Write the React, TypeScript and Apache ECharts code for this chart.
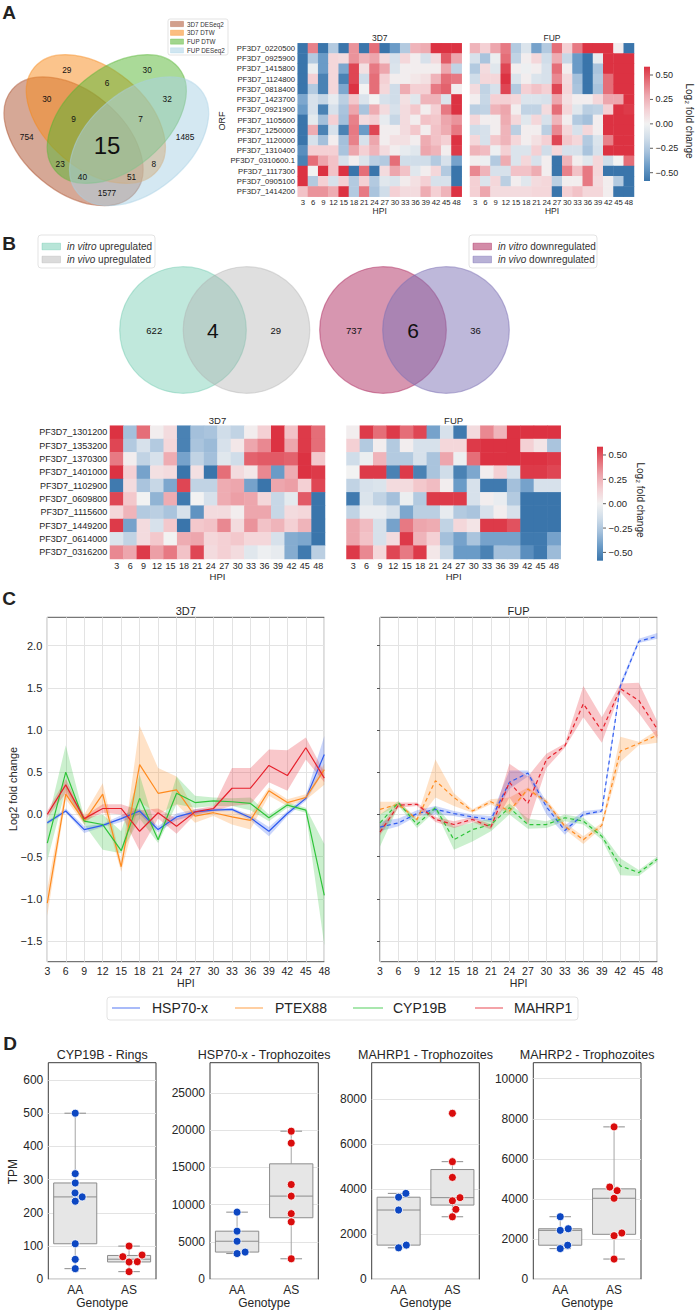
import React, { useEffect, useRef } from 'react';
import * as echarts from 'echarts';

const FONT = "'Liberation Sans', Arial, Helvetica, 'DejaVu Sans', sans-serif";
const INK = '#262626';

// ---------------- Panel A : 4-set Venn ----------------
const vennASetNames = ['3D7 DESeq2', '3D7 DTW', 'FUP DTW', 'FUP DESeq2'];
const vennAColors = ['#ad512d', '#f78919', '#55b531', '#a9d1e5'];
const vennARegions = ['1000', '0100', '0010', '0001', '1100', '0110', '0011', '1110', '0111', '1111', '1010', '0101', '1011', '1101', '1001'];
const vennACounts = [754, 29, 30, 1485, 30, 6, 32, 9, 7, 15, 23, 8, 40, 51, 1577];

// ---------------- Panel B : 2-set Venns ----------------
const vennBUpCounts = [622, 4, 29];
const vennBDownCounts = [737, 6, 36];
const vennBUpLegend = [['in vitro', ' upregulated'], ['in vivo', ' upregulated']];
const vennBDownLegend = [['in vitro', ' downregulated'], ['in vivo', ' downregulated']];

// ---------------- Heatmaps ----------------
const hpiLabels = ['3', '6', '9', '12', '15', '18', '21', '24', '27', '30', '33', '36', '39', '42', '45', '48'];
const cbTicks = [0.5, 0.25, 0, -0.25, -0.5];
const genesA = ['PF3D7_0220500', 'PF3D7_0925900', 'PF3D7_1415800', 'PF3D7_1124800', 'PF3D7_0818400', 'PF3D7_1423700', 'PF3D7_0921900', 'PF3D7_1105600', 'PF3D7_1250000', 'PF3D7_1120000', 'PF3D7_1310400', 'PF3D7_0310600.1', 'PF3D7_1117300', 'PF3D7_0905100', 'PF3D7_1414200'];
const genesB = ['PF3D7_1301200', 'PF3D7_1353200', 'PF3D7_1370300', 'PF3D7_1401000', 'PF3D7_1102900', 'PF3D7_0609800', 'PF3D7_1115600', 'PF3D7_1449200', 'PF3D7_0614000', 'PF3D7_0316200'];

const heatA3D7 = [
  [-0.6, 0.4, -0.6, -0.25, -0.6, 0.35, -0.6, 0.45, -0.6, -0.45, -0.25, 0.25, 0.28, 0.6, 0.6, 0.6],
  [-0.6, -0.25, -0.45, 0.12, 0.1, 0.35, 0.25, 0.3, 0.1, -0.12, 0.12, 0.02, -0.12, 0.1, 0.5, 0.3],
  [-0.6, -0.03, -0.45, 0.12, -0.4, 0.55, 0.08, 0.42, 0.3, -0.1, 0.02, 0.02, 0.02, 0.02, 0.3, -0.2],
  [-0.6, 0.15, -0.55, 0.12, -0.55, 0.55, -0.15, 0.45, 0.15, 0.02, 0.02, 0.05, 0.08, 0.25, 0.45, 0.42],
  [-0.6, -0.25, -0.55, 0.12, -0.4, 0.6, 0.0, 0.45, 0.12, -0.15, 0.28, 0.15, 0.15, 0.42, 0.48, 0.02],
  [-0.4, -0.12, -0.18, -0.05, -0.22, 0.18, -0.1, 0.0, -0.12, -0.15, 0.08, -0.08, 0.25, 0.25, -0.1, 0.6],
  [-0.45, -0.12, -0.55, -0.12, -0.28, 0.3, -0.28, 0.28, 0.1, -0.12, 0.1, 0.18, 0.02, 0.15, 0.42, 0.6],
  [-0.6, -0.06, -0.3, 0.15, -0.3, 0.4, 0.1, 0.15, -0.05, -0.18, 0.1, 0.02, 0.2, 0.18, 0.3, 0.35],
  [-0.6, 0.28, -0.55, -0.12, -0.55, 0.42, -0.45, 0.55, 0.02, 0.02, 0.1, 0.18, 0.02, 0.2, 0.28, 0.42],
  [-0.6, -0.12, -0.3, 0.02, -0.3, 0.4, -0.12, 0.3, 0.02, 0.08, 0.08, 0.02, 0.28, 0.2, 0.15, 0.6],
  [-0.5, 0.15, 0.15, 0.15, -0.28, 0.3, 0.15, 0.25, 0.1, 0.02, -0.05, -0.08, 0.3, 0.25, 0.02, 0.58],
  [-0.55, 0.45, 0.3, 0.2, -0.12, 0.02, -0.1, -0.22, -0.25, 0.45, -0.15, -0.15, -0.15, -0.25, -0.12, -0.42],
  [0.6, 0.0, 0.6, 0.2, 0.6, -0.6, 0.45, -0.6, 0.1, 0.3, 0.2, -0.08, 0.02, 0.12, -0.25, -0.6],
  [0.6, -0.25, 0.15, -0.12, 0.15, -0.25, 0.15, -0.25, -0.08, -0.1, 0.03, 0.08, 0.15, -0.12, -0.12, -0.6],
  [0.2, 0.35, 0.35, 0.28, 0.6, -0.25, 0.42, -0.28, -0.15, 0.15, 0.1, 0.1, 0.28, 0.15, 0.25, 0.6],
];
const heatAFUP = [
  [0.25, 0.15, 0.3, 0.42, -0.25, -0.1, -0.42, -0.25, 0.45, 0.15, 0.42, 0.6, 0.6, 0.6, 0.02, -0.6],
  [-0.12, -0.28, -0.03, 0.45, -0.2, 0.02, 0.12, -0.15, 0.28, -0.18, -0.45, -0.6, -0.05, 0.6, 0.6, 0.6],
  [-0.25, 0.1, -0.08, 0.55, 0.02, -0.02, 0.02, -0.12, 0.45, 0.02, -0.45, -0.6, -0.28, 0.6, 0.6, 0.6],
  [-0.15, 0.12, 0.12, 0.6, -0.1, 0.02, -0.1, -0.12, 0.38, 0.1, -0.3, -0.6, -0.25, 0.45, 0.6, 0.6],
  [0.1, -0.2, -0.12, 0.55, -0.25, 0.15, 0.2, 0.15, 0.55, 0.12, -0.28, -0.6, -0.28, 0.45, 0.6, 0.6],
  [0.02, -0.18, 0.15, 0.15, 0.12, -0.1, -0.1, -0.12, 0.3, 0.08, 0.02, 0.02, 0.12, 0.3, 0.3, 0.6],
  [-0.22, -0.2, 0.25, 0.3, 0.02, -0.2, -0.2, 0.1, 0.45, 0.12, -0.08, -0.22, -0.2, 0.15, 0.6, 0.58],
  [0.12, 0.02, 0.02, 0.28, 0.12, -0.08, 0.12, -0.12, 0.25, 0.02, -0.25, -0.3, 0.02, 0.6, 0.6, 0.6],
  [-0.15, -0.12, 0.02, 0.25, -0.22, 0.02, 0.02, -0.22, 0.38, 0.12, -0.12, 0.12, 0.02, 0.6, 0.6, 0.6],
  [0.12, -0.12, 0.18, 0.25, 0.12, 0.02, 0.08, 0.15, 0.55, 0.18, 0.12, -0.25, -0.1, 0.4, 0.6, 0.6],
  [0.25, 0.22, -0.02, 0.15, -0.1, -0.1, 0.15, -0.15, 0.12, -0.12, -0.12, -0.28, -0.12, 0.6, 0.6, 0.6],
  [0.02, -0.02, -0.25, 0.28, -0.1, 0.12, -0.12, 0.02, -0.6, 0.25, 0.02, -0.08, 0.12, -0.15, 0.0, 0.45],
  [0.38, 0.25, -0.12, -0.12, 0.2, 0.2, 0.28, 0.02, -0.6, 0.4, 0.2, 0.42, 0.12, -0.6, -0.6, -0.6],
  [0.15, -0.1, 0.12, -0.22, 0.02, -0.08, 0.1, 0.12, -0.22, 0.02, 0.02, 0.42, 0.1, 0.02, -0.25, -0.6],
  [0.15, 0.3, 0.1, 0.1, 0.1, 0.1, 0.12, 0.12, -0.6, 0.15, 0.2, 0.12, 0.12, 0.02, -0.6, -0.6],
];
const heatB3D7 = [
  [0.6, -0.3, 0.45, 0.02, 0.1, -0.55, -0.3, -0.28, -0.15, -0.2, 0.02, 0.15, 0.6, 0.2, 0.58, 0.45],
  [0.55, -0.25, -0.12, -0.25, 0.12, -0.55, -0.28, -0.32, -0.12, 0.05, 0.3, 0.38, 0.6, 0.3, 0.58, 0.45],
  [0.42, 0.02, -0.2, -0.12, 0.28, -0.42, -0.2, -0.3, -0.08, -0.15, 0.48, 0.5, 0.5, 0.48, 0.6, 0.18],
  [0.6, 0.15, -0.42, 0.08, 0.1, -0.6, 0.08, -0.6, 0.45, 0.1, 0.05, 0.38, -0.45, 0.28, 0.6, 0.58],
  [-0.58, 0.1, -0.28, -0.18, -0.4, 0.55, -0.2, -0.2, 0.28, 0.3, -0.42, -0.6, 0.3, 0.32, 0.15, 0.55],
  [0.55, 0.18, 0.0, -0.35, 0.28, -0.58, 0.0, -0.12, 0.28, 0.32, 0.3, 0.12, -0.18, -0.06, 0.5, -0.6],
  [0.12, 0.25, -0.25, -0.22, -0.28, -0.12, -0.48, 0.1, 0.1, 0.02, 0.3, 0.3, -0.18, 0.1, 0.12, -0.6],
  [0.58, -0.42, 0.1, -0.12, 0.18, -0.6, 0.18, 0.2, 0.38, 0.1, 0.35, 0.2, 0.25, 0.15, 0.25, -0.6],
  [-0.1, -0.2, 0.1, 0.18, 0.0, 0.28, 0.3, 0.12, 0.15, 0.18, 0.12, 0.12, -0.12, -0.38, -0.4, -0.6],
  [0.38, 0.3, 0.58, 0.32, 0.42, 0.2, 0.55, 0.1, 0.15, 0.1, -0.08, -0.02, -0.05, -0.38, -0.58, -0.22],
];
const heatBFUP = [
  [0.02, 0.58, 0.45, 0.58, 0.45, 0.55, -0.42, -0.12, -0.58, 0.1, 0.38, 0.25, 0.6, 0.6, 0.6, 0.6],
  [0.15, -0.25, 0.02, -0.25, 0.02, -0.12, -0.12, 0.12, 0.12, 0.58, 0.6, 0.6, 0.6, 0.15, 0.06, -0.28],
  [-0.15, -0.03, 0.25, -0.25, -0.25, -0.12, -0.28, 0.3, -0.02, 0.45, 0.6, 0.6, 0.6, 0.6, 0.6, 0.58],
  [0.0, 0.58, 0.58, -0.55, 0.58, -0.55, -0.28, -0.15, -0.55, -0.4, 0.02, 0.15, -0.12, 0.58, 0.58, 0.55],
  [-0.2, -0.12, -0.1, 0.1, 0.1, 0.18, 0.22, 0.02, -0.45, -0.12, -0.58, -0.58, -0.3, -0.42, -0.12, -0.12],
  [-0.58, -0.1, -0.2, -0.3, -0.03, -0.25, 0.58, 0.58, 0.58, -0.12, 0.02, -0.04, -0.25, -0.6, -0.6, -0.6],
  [-0.2, -0.04, -0.04, -0.12, -0.4, -0.22, -0.22, -0.05, -0.25, -0.28, -0.12, 0.02, -0.12, -0.6, -0.6, -0.6],
  [0.3, 0.22, -0.12, -0.42, 0.42, 0.3, 0.28, -0.2, 0.12, 0.06, 0.58, 0.58, 0.52, -0.6, -0.6, -0.6],
  [0.3, 0.2, -0.12, 0.1, 0.58, 0.25, 0.15, -0.3, -0.42, -0.28, -0.42, -0.42, -0.42, -0.58, -0.58, -0.42],
  [0.58, 0.38, 0.12, 0.55, 0.42, 0.58, 0.05, -0.18, -0.45, -0.45, -0.55, -0.3, -0.3, -0.5, -0.58, -0.32],
];
const cmapColors = ['#3a75ab', '#6a9bc7', '#a4c0db', '#d0dde9', '#f2f2f2', '#f4d0d4', '#eda6ad', '#e56e78', '#dc3242'];

// ---------------- Panel C : time courses ----------------
const hpiHours = [3, 6, 9, 12, 15, 18, 21, 24, 27, 30, 33, 36, 39, 42, 45, 48];
const cTicks = [-1.5, -1.0, -0.5, 0, 0.5, 1.0, 1.5, 2.0];
const geneNames = ['HSP70-x', 'PTEX88', 'CYP19B', 'MAHRP1'];
const geneColors = ['#2f5bf0', '#ff8b1f', '#2fc43a', '#e6212c'];

const hsp3d7 = [-0.10, 0.04, -0.18, -0.13, -0.05, 0.04, -0.18, -0.03, 0.03, 0.05, 0.06, -0.04, -0.20, 0.01, 0.19, 0.71];
const hsp3d7Lo = [-0.12, 0.02, -0.22, -0.15, -0.09, 0.00, -0.21, -0.07, -0.01, 0.03, 0.04, -0.07, -0.26, -0.02, 0.16, 0.52];
const hsp3d7Hi = [-0.08, 0.07, -0.14, -0.11, -0.01, 0.07, -0.14, 0.01, 0.06, 0.07, 0.08, -0.01, -0.15, 0.04, 0.22, 0.93];
const ptex3d7 = [-1.05, 0.24, -0.08, 0.24, -0.62, 0.59, 0.25, 0.29, -0.02, 0.02, -0.03, -0.07, 0.28, 0.14, 0.20, 0.53];
const ptex3d7Lo = [-1.20, 0.18, -0.12, 0.10, -0.68, 0.15, 0.00, 0.12, -0.10, -0.02, -0.12, -0.18, 0.22, 0.10, 0.17, 0.35];
const ptex3d7Hi = [-0.88, 0.33, 0.00, 0.37, -0.55, 1.05, 0.55, 0.45, 0.03, 0.06, 0.04, 0.00, 0.32, 0.18, 0.24, 0.60];
const cyp3d7 = [-0.34, 0.50, -0.08, -0.12, -0.43, 0.19, -0.30, 0.25, 0.14, 0.16, 0.15, 0.13, -0.04, 0.11, 0.05, -0.96];
const cyp3d7Lo = [-0.55, 0.30, -0.12, -0.42, -0.46, -0.05, -0.34, 0.12, 0.08, 0.10, 0.10, 0.05, -0.08, 0.08, 0.02, -1.55];
const cyp3d7Hi = [-0.10, 0.82, -0.04, 0.00, -0.20, 0.47, -0.26, 0.45, 0.22, 0.20, 0.19, 0.20, 0.00, 0.14, 0.08, -0.35];
const mah3d7 = [0.00, 0.35, -0.05, 0.07, 0.07, -0.20, 0.02, -0.14, 0.03, 0.07, 0.31, 0.31, 0.58, 0.46, 0.79, 0.43];
const mah3d7Lo = [-0.04, 0.25, -0.08, 0.02, 0.00, -0.43, -0.05, -0.23, 0.00, 0.04, 0.10, 0.12, 0.38, 0.28, 0.65, 0.38];
const mah3d7Hi = [0.04, 0.42, -0.02, 0.12, 0.12, 0.05, 0.07, -0.05, 0.06, 0.10, 0.55, 0.55, 0.77, 0.76, 0.91, 0.50];

const hspFup = [-0.15, -0.10, 0.01, 0.06, 0.01, -0.03, -0.06, 0.38, 0.49, 0.09, -0.19, 0.00, 0.04, 1.52, 2.05, 2.11];
const hspFupLo = [-0.20, -0.14, -0.02, 0.00, -0.02, -0.06, -0.09, 0.30, 0.45, 0.00, -0.24, -0.02, 0.02, 1.48, 2.03, 2.08];
const hspFupHi = [-0.08, -0.05, 0.05, 0.10, 0.04, 0.00, -0.02, 0.52, 0.52, 0.15, -0.13, 0.04, 0.06, 1.56, 2.08, 2.15];
const ptexFup = [0.06, 0.12, -0.06, 0.40, 0.20, 0.04, 0.15, 0.04, 0.30, 0.15, -0.14, -0.30, -0.13, 0.75, 0.84, 0.94];
const ptexFupLo = [0.00, 0.10, -0.08, 0.20, 0.10, 0.02, 0.12, 0.00, 0.28, 0.12, -0.18, -0.35, -0.16, 0.62, 0.82, 0.85];
const ptexFupHi = [0.15, 0.15, -0.04, 0.65, 0.25, 0.06, 0.18, 0.20, 0.32, 0.18, -0.10, -0.26, -0.10, 0.92, 0.86, 1.00];
const cypFup = [-0.10, 0.14, -0.12, 0.08, -0.30, -0.18, -0.12, 0.08, -0.12, -0.12, -0.04, -0.08, -0.26, -0.61, -0.69, -0.53];
const cypFupLo = [-0.38, 0.10, -0.16, 0.04, -0.42, -0.32, -0.20, 0.00, -0.17, -0.16, -0.08, -0.12, -0.30, -0.72, -0.73, -0.56];
const cypFupHi = [0.00, 0.16, -0.06, 0.10, -0.15, -0.10, -0.05, 0.13, -0.05, -0.08, 0.00, -0.04, -0.22, -0.52, -0.66, -0.50];
const mahFup = [-0.21, 0.11, 0.12, -0.06, -0.12, -0.06, -0.15, 0.38, 0.13, 0.65, 0.81, 1.31, 0.99, 1.49, 1.35, 1.01];
const mahFupLo = [-0.25, 0.08, 0.10, -0.09, -0.16, -0.09, -0.18, 0.20, -0.12, 0.55, 0.79, 1.15, 0.85, 1.45, 1.20, 0.90];
const mahFupHi = [-0.15, 0.14, 0.14, -0.03, -0.08, -0.03, -0.12, 0.60, 0.45, 0.72, 0.84, 1.52, 1.15, 1.55, 1.56, 1.10];

// ---------------- Panel D : box plots ----------------
const dTitles = ['CYP19B - Rings', 'HSP70-x - Trophozoites', 'MAHRP1 - Trophozoites', 'MAHRP2 - Trophozoites'];
const genotypes = ['AA', 'AS'];
const cypAA = [500, 318, 290, 260, 248, 235, 107, 60, 32];
const cypAS = [100, 73, 68, 53, 52, 23];
const hspAA = [9000, 6450, 5100, 3650, 3450];
const hspAS = [19850, 18250, 12700, 11150, 8800, 7700, 2750];
const mah1AA = [3820, 3650, 3080, 1520, 1400];
const mah1AS = [7380, 5230, 4530, 3630, 3490, 3110, 2780];
const mah2AA = [3120, 2520, 2440, 1700, 1530];
const mah2AS = [7600, 4600, 4420, 4040, 2310, 2175, 1010];
const dTicks = [
  [0, 100, 200, 300, 400, 500, 600],
  [0, 5000, 10000, 15000, 20000, 25000],
  [0, 2000, 4000, 6000, 8000],
  [0, 2000, 4000, 6000, 8000, 10000],
];
const dYMax = [652, 29030, 9630, 10800];

// ---------------- helpers ----------------
const minus = (s: string) => s.replace('-', '\u2212');

function quantile(s: number[], p: number) {
  const pos = (s.length - 1) * p;
  const lo = Math.floor(pos);
  const hi = Math.ceil(pos);
  return s[lo] + (s[hi] - s[lo]) * (pos - lo);
}
function boxStats(vals: number[]) {
  const s = [...vals].sort((a, b) => a - b);
  const q1 = quantile(s, 0.25), med = quantile(s, 0.5), q3 = quantile(s, 0.75);
  const iqr = q3 - q1;
  const lo = s.find((v) => v >= q1 - 1.5 * iqr) as number;
  const hi = [...s].reverse().find((v) => v <= q3 + 1.5 * iqr) as number;
  return [lo, q1, med, q3, hi];
}
// beeswarm-style horizontal offsets (layout only)
function swarm(values: number[], ymax: number, H: number, pxPerUnit: number, d: number) {
  const order = values.map((_, i) => i).sort((a, b) => values[a] - values[b]);
  const placed: { x: number; y: number }[] = [];
  const off = new Array(values.length).fill(0);
  for (const i of order) {
    const y = (values[i] / ymax) * H;
    const cands = [0];
    for (const p of placed) {
      const dy = Math.abs(p.y - y);
      if (dy < d) {
        const dx = Math.sqrt(d * d - dy * dy);
        cands.push(p.x + dx, p.x - dx);
      }
    }
    cands.sort((a, b) => Math.abs(a) - Math.abs(b));
    let chosen = 0;
    for (const c of cands) {
      if (placed.every((p) => (p.x - c) ** 2 + (p.y - y) ** 2 >= d * d - 1e-6)) { chosen = c; break; }
    }
    placed.push({ x: chosen, y });
    off[i] = chosen / pxPerUnit;
  }
  return off;
}
function toHeat(m: number[][]) {
  const out: number[][] = [];
  m.forEach((row, i) => row.forEach((v, j) => out.push([j, i, v])));
  return out;
}
function txt(text: string, x: number, y: number, o: any = {}) {
  return {
    type: 'text', x, y, rotation: o.rot || 0, silent: true, z: 100,
    style: {
      text, fontSize: o.size || 10, fontFamily: FONT, fontWeight: o.weight || 'normal',
      fontStyle: o.style || 'normal', fill: o.color || INK,
      align: o.align || 'center', verticalAlign: o.va || 'middle',
      textAlign: o.align || 'center', textVerticalAlign: o.va || 'middle',
      rich: o.rich,
    },
  };
}

function buildOption() {
  const graphic: any[] = [];

  // panel letters
  graphic.push(txt('A', 9, 12, { size: 19, weight: 'bold', color: '#222' }));
  graphic.push(txt('B', 9, 243, { size: 19, weight: 'bold', color: '#222' }));
  graphic.push(txt('C', 9, 598, { size: 19, weight: 'bold', color: '#222' }));
  graphic.push(txt('D', 10, 1043, { size: 19, weight: 'bold', color: '#222' }));

  // ---- Venn A ----
  const vx = (x: number) => -4.5 + 223 * x;
  const vy = (y: number) => 7.5 + 223 * (1 - y);
  const ell = [[0.35, 0.4, 140], [0.45, 0.5, 140], [0.544, 0.5, 40], [0.644, 0.4, 40]];
  ell.forEach((e, i) => {
    graphic.push({
      type: 'ellipse', x: vx(e[0]), y: vy(e[1]), rotation: (e[2] * Math.PI) / 180, silent: true, z: 10 + i,
      shape: { cx: 0, cy: 0, rx: 0.36 * 223, ry: 0.225 * 223 },
      style: { fill: vennAColors[i], opacity: 0.5, stroke: vennAColors[i], lineWidth: 1.2 },
    });
  });
  const posA: Record<string, number[]> = {
    '0001': [0.85, 0.42], '0010': [0.68, 0.72], '0011': [0.77, 0.59], '0100': [0.32, 0.72], '0101': [0.71, 0.30],
    '0110': [0.50, 0.66], '0111': [0.65, 0.50], '1000': [0.14, 0.42], '1001': [0.50, 0.17], '1010': [0.29, 0.30],
    '1011': [0.39, 0.24], '1100': [0.23, 0.59], '1101': [0.61, 0.24], '1110': [0.35, 0.50], '1111': [0.50, 0.38],
  };
  vennARegions.forEach((r, i) => {
    const p = posA[r];
    graphic.push(txt(String(vennACounts[i]), vx(p[0]), vy(p[1]), { size: r === '1111' ? 24 : 8.3, color: '#111' }));
  });
  // legend A
  graphic.push({ type: 'rect', shape: { x: 168, y: 19, width: 60, height: 36, r: 2 }, style: { fill: '#fff', stroke: '#dcdcdc', lineWidth: 0.8 }, z: 30, silent: true });
  vennASetNames.forEach((n, i) => {
    const cy = 24 + i * 8.8;
    graphic.push({ type: 'rect', shape: { x: 170.5, y: cy - 2.6, width: 13, height: 5.2 }, style: { fill: vennAColors[i], opacity: 0.55, stroke: vennAColors[i], lineWidth: 0.6 }, z: 31, silent: true });
    graphic.push(txt(n, 187, cy, { size: 6.3, align: 'left', color: '#333' }));
  });

  // ---- Venn B ----
  const circles = [
    { cx: 183, color: '#62c5a8', op: 0.4 },
    { cx: 246.5, color: '#b0b0b0', op: 0.4 },
    { cx: 383, color: '#af2d61', op: 0.5 },
    { cx: 446, color: '#7d71b5', op: 0.5 },
  ];
  circles.forEach((c, i) => {
    graphic.push({ type: 'circle', shape: { cx: c.cx, cy: 330, r: 63.3 }, style: { fill: c.color, opacity: c.op, stroke: c.color, lineWidth: 1.2 }, z: 10 + i, silent: true });
  });
  const midUp = (183 + 246.5) / 2, midDown = (383 + 446) / 2;
  graphic.push(txt(String(vennBUpCounts[0]), midUp - 60.5, 330, { size: 9.5, color: '#111' }));
  graphic.push(txt(String(vennBUpCounts[1]), midUp - 2, 330, { size: 21, color: '#111' }));
  graphic.push(txt(String(vennBUpCounts[2]), midUp + 61, 330, { size: 9.5, color: '#111' }));
  graphic.push(txt(String(vennBDownCounts[0]), midDown - 60.5, 330, { size: 9.5, color: '#111' }));
  graphic.push(txt(String(vennBDownCounts[1]), midDown - 1.5, 330, { size: 21, color: '#111' }));
  graphic.push(txt(String(vennBDownCounts[2]), midDown + 61, 330, { size: 9.5, color: '#111' }));
  // legends B
  const legB = (x0: number, w: number, items: string[][], cols: any[]) => {
    graphic.push({ type: 'rect', shape: { x: x0, y: 235, width: w, height: 33, r: 3 }, style: { fill: '#fff', stroke: '#dcdcdc', lineWidth: 0.8 }, z: 30, silent: true });
    items.forEach((it, i) => {
      const cy = 246.5 + i * 13;
      graphic.push({ type: 'rect', shape: { x: x0 + 4, y: cy - 3.3, width: 18.5, height: 6.6 }, style: { fill: cols[i].color, opacity: cols[i].op + 0.05, stroke: cols[i].color, lineWidth: 0.8 }, z: 31, silent: true });
      graphic.push(txt(`{i|${it[0]}}{n|${it[1]}}`, x0 + 29, cy, {
        size: 10, align: 'left',
        rich: { i: { fontStyle: 'italic', fontSize: 10, fontFamily: FONT, fill: '#333' }, n: { fontSize: 10, fontFamily: FONT, fill: '#333' } },
      }));
    });
  };
  legB(38, 117, vennBUpLegend, [circles[0], circles[1]]);
  legB(469, 128, vennBDownLegend, [circles[2], circles[3]]);

  // ---- heatmap titles / labels ----
  graphic.push(txt('3D7', 379.7, 38, { size: 8.5 }));
  graphic.push(txt('FUP', 552, 38, { size: 8.5 }));
  graphic.push(txt('HPI', 379.7, 211, { size: 8.5 }));
  graphic.push(txt('HPI', 552, 211, { size: 8.5 }));
  graphic.push(txt('ORF', 222, 121, { size: 9, rot: Math.PI / 2 }));
  graphic.push(txt('3D7', 217.5, 420, { size: 9.5 }));
  graphic.push(txt('FUP', 453.6, 420, { size: 9.5 }));
  graphic.push(txt('HPI', 217.5, 576.5, { size: 9.5 }));
  graphic.push(txt('HPI', 453.6, 576.5, { size: 9.5 }));

  // colorbars
  const grad = {
    type: 'linear', x: 0, y: 0, x2: 0, y2: 1,
    colorStops: [...cmapColors].reverse().map((c, i) => ({ offset: i / (cmapColors.length - 1), color: c })),
  };
  const colorbar = (x: number, top: number, bottom: number, lblX: number, size: number, labelX: number, labelY: number) => {
    graphic.push({ type: 'rect', shape: { x, y: top, width: 6, height: bottom - top }, style: { fill: grad }, silent: true, z: 20 });
    const c = (top + bottom) / 2;
    const sc = (bottom - top) / 2 / 0.585;
    cbTicks.forEach((t) => {
      const y = c - t * sc;
      graphic.push({ type: 'line', shape: { x1: x + 6, y1: y, x2: x + 9, y2: y }, style: { stroke: '#333', lineWidth: 0.8 }, silent: true, z: 20 });
      graphic.push(txt(minus(t.toFixed(2)), lblX, y, { size, align: 'left' }));
    });
    graphic.push(txt('Log\u2082 fold change', labelX, labelY, { size: 10, rot: -Math.PI / 2 }));
  };
  colorbar(644, 66.7, 181, 655.5, 9, 689, 121);
  colorbar(597, 446.7, 560.7, 608.5, 9.5, 640, 500);

  // ---- panel C labels ----
  graphic.push(txt('3D7', 185.8, 610.7, { size: 11 }));
  graphic.push(txt('FUP', 518.6, 610.7, { size: 11 }));
  graphic.push(txt('HPI', 185.8, 983, { size: 10.5 }));
  graphic.push(txt('HPI', 518.6, 983, { size: 10.5 }));
  graphic.push(txt('Log2 fold change', 13.3, 789, { size: 11, rot: Math.PI / 2 }));
  // legend C
  graphic.push({ type: 'rect', shape: { x: 107, y: 997, width: 471, height: 23, r: 3 }, style: { fill: '#fff', stroke: '#dcdcdc', lineWidth: 0.8 }, silent: true, z: 30 });
  const legX = [[112, 140, 152], [235, 263, 275], [353, 383, 393], [475, 503, 514]];
  geneNames.forEach((g, i) => {
    graphic.push({ type: 'line', shape: { x1: legX[i][0], y1: 1008, x2: legX[i][1], y2: 1008 }, style: { stroke: geneColors[i], opacity: 0.55, lineWidth: 1.5 }, silent: true, z: 31 });
    graphic.push(txt(g, legX[i][2], 1008, { size: 14, align: 'left' }));
  });

  // ---- panel D labels ----
  const dLeft = [48.3, 210, 371.7, 533.3];
  const dWidth = [107.7, 108.3, 107.6, 107.7];
  dTitles.forEach((t, k) => {
    const cx = dLeft[k] + dWidth[k] / 2;
    graphic.push(txt(t, cx, 1055, { size: 12.5 }));
    graphic.push(txt('Genotype', cx, 1303, { size: 12 }));
  });
  graphic.push(txt('TPM', 13.3, 1171.7, { size: 12, rot: Math.PI / 2 }));

  // ---------------- grids & axes ----------------
  const grid: any[] = [
    { left: 297.7, top: 43.3, width: 164, height: 153.4 },
    { left: 470, top: 43.3, width: 164, height: 153.4 },
    { left: 110, top: 425.7, width: 215, height: 133.3 },
    { left: 346.5, top: 425.7, width: 214.2, height: 133.3 },
    { left: 47.3, top: 617.3, width: 277, height: 344.4, show: true, borderColor: '#555', borderWidth: 1 },
    { left: 380, top: 617.3, width: 277.3, height: 344.4, show: true, borderColor: '#555', borderWidth: 1 },
  ];
  dLeft.forEach((l, k) => grid.push({ left: l, top: 1062.7, width: dWidth[k], height: 216.6, show: true, borderColor: '#3d3d3d', borderWidth: 1 }));

  const catX = (gi: number, size: number, margin: number) => ({
    gridIndex: gi, type: 'category', data: hpiLabels, axisLine: { show: false }, axisTick: { show: false }, splitLine: { show: false },
    axisLabel: { interval: 0, fontSize: size, margin, color: INK, fontFamily: FONT },
  });
  const catY = (gi: number, genes: string[], size: number, show: boolean) => ({
    gridIndex: gi, type: 'category', data: genes, inverse: true, axisLine: { show: false }, axisTick: { show: false }, splitLine: { show: false },
    axisLabel: { show, interval: 0, fontSize: size, margin: 2.7, color: INK, fontFamily: FONT },
  });
  const xAxis: any[] = [catX(0, 7.7, 2), catX(1, 7.7, 2), catX(2, 9, 2.5), catX(3, 9, 2.5)];
  const yAxis: any[] = [catY(0, genesA, 7.7, true), catY(1, genesA, 7.7, false), catY(2, genesB, 9, true), catY(3, genesB, 9, false)];
  [4, 5].forEach((gi) => {
    xAxis.push({
      gridIndex: gi, type: 'value', min: 3, max: 48, interval: 3,
      axisLine: { show: false }, axisTick: { show: false },
      splitLine: { show: true, lineStyle: { color: '#e3e3e3', width: 1 } },
      axisLabel: { fontSize: 10.5, margin: 4, color: INK, fontFamily: FONT },
    });
    yAxis.push({
      gridIndex: gi, type: 'value', min: -1.745, max: 2.335,
      axisLine: { show: false },
      axisTick: { show: gi === 5, length: 3, lineStyle: { color: '#555' }, customValues: cTicks },
      splitLine: { show: true, lineStyle: { color: '#e3e3e3', width: 1 } },
      axisLabel: { show: gi === 4, customValues: cTicks, fontSize: 11, margin: 5, color: INK, fontFamily: FONT, formatter: (v: number) => minus(v.toFixed(1)) },
    });
  });
  dLeft.forEach((_, k) => {
    xAxis.push({
      gridIndex: 6 + k, type: 'value', min: -0.5, max: 1.5,
      axisLine: { show: false }, axisTick: { show: false, customValues: [0, 1] }, splitLine: { show: false },
      axisLabel: { customValues: [0, 1], formatter: (v: number) => genotypes[Math.round(v)], fontSize: 12, margin: 4.5, color: INK, fontFamily: FONT },
    });
    yAxis.push({
      gridIndex: 6 + k, type: 'value', min: 0, max: dYMax[k],
      axisLine: { show: false }, axisTick: { show: false, customValues: dTicks[k] },
      splitLine: { show: true, lineStyle: { color: '#e3e3e3', width: 1 } },
      axisLabel: { customValues: dTicks[k], formatter: (v: number) => String(Math.round(v)), fontSize: 12, margin: 5, color: INK, fontFamily: FONT },
    });
  });

  // ---------------- series ----------------
  const series: any[] = [];
  [heatA3D7, heatAFUP, heatB3D7, heatBFUP].forEach((m, i) => {
    series.push({ type: 'heatmap', xAxisIndex: i, yAxisIndex: i, data: toHeat(m), itemStyle: { borderWidth: 0 }, emphasis: { disabled: true }, progressive: 0 });
  });

  const c3d7 = [[hsp3d7, hsp3d7Lo, hsp3d7Hi], [ptex3d7, ptex3d7Lo, ptex3d7Hi], [cyp3d7, cyp3d7Lo, cyp3d7Hi], [mah3d7, mah3d7Lo, mah3d7Hi]];
  const cFup = [[hspFup, hspFupLo, hspFupHi], [ptexFup, ptexFupLo, ptexFupHi], [cypFup, cypFupLo, cypFupHi], [mahFup, mahFupLo, mahFupHi]];
  [c3d7, cFup].forEach((set, s) => {
    const ai = 4 + s;
    set.forEach((g, gi) => {
      const bandData = hpiHours.map((h, i) => [h, g[1][i], g[2][i]]);
      series.push({
        type: 'custom', xAxisIndex: ai, yAxisIndex: ai, data: bandData, silent: true, z: 2,
        encode: { x: 0, y: [1, 2] },
        renderItem: (params: any, api: any) => {
          if (params.dataIndex !== 0) return null;
          const top = bandData.map((d) => api.coord([d[0], d[2]]));
          const bot = bandData.map((d) => api.coord([d[0], d[1]])).reverse();
          return { type: 'polygon', shape: { points: top.concat(bot) }, style: { fill: geneColors[gi], opacity: 0.25 } };
        },
      });
    });
    set.forEach((g, gi) => {
      series.push({
        type: 'line', name: geneNames[gi], xAxisIndex: ai, yAxisIndex: ai, z: 4, silent: true,
        data: hpiHours.map((h, i) => [h, g[0][i]]), symbol: 'none',
        lineStyle: { color: geneColors[gi], width: 1.2, type: s === 0 ? 'solid' : [4, 3] },
      });
    });
  });

  const dSets = [[cypAA, cypAS], [hspAA, hspAS], [mah1AA, mah1AS], [mah2AA, mah2AS]];
  const ptColors = ['#0d47c2', '#d90d0d'];
  dSets.forEach((pair, k) => {
    const ai = 6 + k;
    series.push({
      type: 'custom', xAxisIndex: ai, yAxisIndex: ai, silent: true, z: 3,
      data: pair.map((vals, g) => [g, ...boxStats(vals)]),
      encode: { x: 0, y: [1, 2, 3, 4, 5] },
      renderItem: (params: any, api: any) => {
        const x = api.value(0);
        const v = [1, 2, 3, 4, 5].map((i) => api.value(i));
        const w = api.size([0.8, 0])[0];
        const p = v.map((val) => api.coord([x, val]));
        const cx = p[0][0];
        const edge = '#8c8c8c';
        return {
          type: 'group',
          children: [
            { type: 'line', shape: { x1: cx, y1: p[0][1], x2: cx, y2: p[1][1] }, style: { stroke: '#a6a6a6', lineWidth: 1 } },
            { type: 'line', shape: { x1: cx, y1: p[3][1], x2: cx, y2: p[4][1] }, style: { stroke: '#a6a6a6', lineWidth: 1 } },
            { type: 'line', shape: { x1: cx - w / 4, y1: p[0][1], x2: cx + w / 4, y2: p[0][1] }, style: { stroke: edge, lineWidth: 1 } },
            { type: 'line', shape: { x1: cx - w / 4, y1: p[4][1], x2: cx + w / 4, y2: p[4][1] }, style: { stroke: edge, lineWidth: 1 } },
            { type: 'rect', shape: { x: cx - w / 2, y: p[3][1], width: w, height: p[1][1] - p[3][1] }, style: { fill: '#e6e6e6', stroke: edge, lineWidth: 1 } },
            { type: 'line', shape: { x1: cx - w / 2, y1: p[2][1], x2: cx + w / 2, y2: p[2][1] }, style: { stroke: edge, lineWidth: 1 } },
          ],
        };
      },
    });
    pair.forEach((vals, g) => {
      const off = swarm(vals, dYMax[k], 216.6, dWidth[k] / 2, 8.2);
      series.push({
        type: 'scatter', xAxisIndex: ai, yAxisIndex: ai, silent: true, z: 6,
        data: vals.map((v, i) => [g + off[i], v]), symbol: 'circle', symbolSize: 8,
        itemStyle: { color: ptColors[g], borderColor: '#ffffff', borderWidth: 0.8, opacity: 1 },
      });
    });
  });

  return {
    animation: false,
    backgroundColor: '#ffffff',
    textStyle: { fontFamily: FONT },
    grid, xAxis, yAxis, series, graphic,
    visualMap: [{ type: 'continuous', show: false, min: -0.6, max: 0.6, seriesIndex: [0, 1, 2, 3], inRange: { color: cmapColors } }],
  };
}

export default function App() {
  const ref = useRef<HTMLDivElement>(null);
  useEffect(() => {
    const chart = echarts.init(ref.current as HTMLDivElement, undefined, { renderer: 'svg', width: 697, height: 1312 });
    chart.setOption(buildOption() as any);
    return () => chart.dispose();
  }, []);
  return <div ref={ref} style={{ position: 'absolute', left: 0, top: 0, width: 697, height: 1312, background: '#fff' }} />;
}
